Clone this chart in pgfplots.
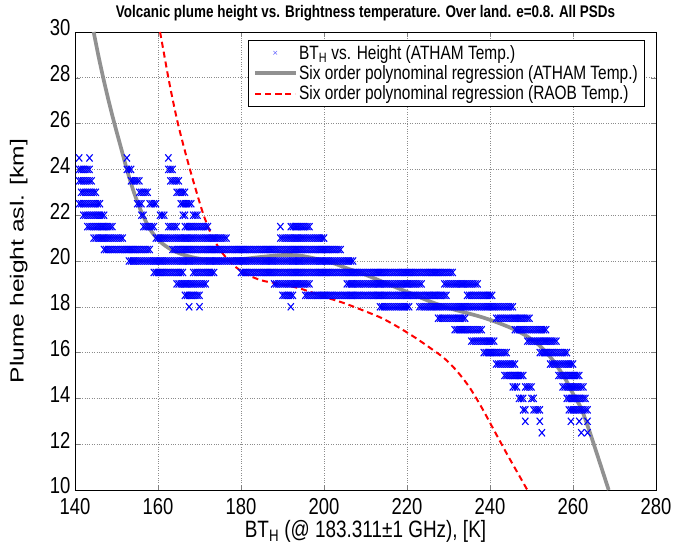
\documentclass[border=0pt]{standalone}
\usepackage{fontspec}
\setmainfont{Liberation Sans}
\usepackage{graphicx}
\usepackage{pgfplots}
\pgfplotsset{compat=1.18}
\definecolor{mgray}{rgb}{0.57,0.57,0.57}
\newcommand{\vs}[1]{\scalebox{1}[1.25]{#1}}
\begin{document}
\begin{tikzpicture}
\path[use as bounding box] (-75bp,-62bp) rectangle (613bp,490bp);
\begin{axis}[
  at={(0,0)}, anchor=south west,
  scale only axis, width=581bp, height=458bp,
  xmin=140, xmax=280, ymin=10, ymax=30,
  xtick={140,160,...,280}, ytick={10,12,...,30},
  grid=major,
  major grid style={black!45, dotted, line width=0.6pt},
  tick align=inside, tick pos=both, major tick length=5bp,
  axis line style={black, line width=0.6pt},
  ticklabel style={font=\fontsize{18.5}{20}\selectfont, inner sep=0.5bp},
  xticklabel style={yshift=-7.5bp},
  yticklabel style={xshift=-4bp, yshift=4bp},
  /pgf/number format/assume math mode=true,
  xticklabel={\vs{\pgfmathprintnumber{\tick}}},
  yticklabel={\vs{\pgfmathprintnumber{\tick}}},
  xlabel={\vs{BT\textsubscript{H} (@ 183.311±1 GHz), [K]}},
  ylabel={\scalebox{1.3}[1]{Plume height asl. [km]}},
  xlabel style={font=\fontsize{19}{21}\selectfont, at={(axis description cs:0.5,-0.09)}, anchor=center},
  ylabel style={font=\fontsize{19}{21}\selectfont, at={(axis description cs:-0.097,0.5)}, anchor=center},
  title={\vs{\bfseries Volcanic plume height vs. Brightness temperature. Over land. e=0.8. All PSDs}},
  every axis title shift=0pt,
  title style={font=\fontsize{13.5}{15}\selectfont, at={(axis description cs:0.5,1.041)}, anchor=center},
  legend style={at={(axis description cs:0.981,0.983)}, anchor=north east,
    font=\fontsize{15.5}{17}\selectfont, draw=black, line width=0.5pt,
    inner xsep=5bp, inner ysep=3bp, row sep=1bp, cells={anchor=west}},
  legend image code/.code={\draw[mark repeat=2,mark phase=2,#1] plot coordinates {(0bp,0bp) (20bp,0bp) (40bp,0bp)};},
]
\addplot[only marks, mark=x, blue, mark size=4.4pt, line width=1.1pt, mark options={yscale=1.15}, forget plot] coordinates {
(141,24.5)(143.5,24.5)(152.5,24.5)(162.5,24.5)
(141,24)(141.5,24)(142,24)(142.5,24)(143,24)(143.5,24)(152.5,24)(153,24)(153.5,24)(162.5,24)(163,24)(163.5,24)
(141,23.5)(141.5,23.5)(142,23.5)(142.5,23.5)(143,23.5)(143.5,23.5)(144,23.5)(153.5,23.5)(154,23.5)(154.5,23.5)(155,23.5)(155.5,23.5)(163,23.5)(163.5,23.5)(164,23.5)(164.5,23.5)(165,23.5)
(141.5,23)(142,23)(142.5,23)(143,23)(143.5,23)(144,23)(144.5,23)(145,23)(155.5,23)(156,23)(156.5,23)(157,23)(157.5,23)(164.5,23)(165,23)(165.5,23)(166,23)(166.5,23)
(141,22.5)(141.5,22.5)(142,22.5)(142.5,22.5)(143,22.5)(143.5,22.5)(144,22.5)(144.5,22.5)(145,22.5)(145.5,22.5)(146,22.5)(155,22.5)(155.5,22.5)(156,22.5)(158,22.5)(158.5,22.5)(159,22.5)(159.5,22.5)(165.5,22.5)(166,22.5)(166.5,22.5)(167,22.5)(167.5,22.5)(168,22.5)
(142,22)(142.5,22)(143,22)(143.5,22)(144,22)(144.5,22)(145,22)(145.5,22)(146,22)(146.5,22)(147,22)(156,22)(156.5,22)(160.5,22)(161,22)(161.5,22)(166,22)(166.5,22)(168.5,22)(169,22)(169.5,22)
(143,21.5)(143.5,21.5)(144,21.5)(144.5,21.5)(145,21.5)(145.5,21.5)(146,21.5)(146.5,21.5)(147,21.5)(147.5,21.5)(148,21.5)(148.5,21.5)(149,21.5)
(156.5,21.5)(157,21.5)(157.5,21.5)(158,21.5)(158.5,21.5)(159,21.5)(162.5,21.5)(163,21.5)(163.5,21.5)(164,21.5)(164.5,21.5)
(166.5,21.5)(167,21.5)(167.5,21.5)(168,21.5)(168.5,21.5)(169,21.5)(169.5,21.5)(170,21.5)(170.5,21.5)(171,21.5)(171.5,21.5)(172,21.5)(189.5,21.5)
(192,21.5)(192.5,21.5)(193,21.5)(193.5,21.5)(194,21.5)(194.5,21.5)(195,21.5)(195.5,21.5)(196,21.5)(196.5,21.5)
(144.5,21)(145,21)(145.5,21)(146,21)(146.5,21)(147,21)(147.5,21)(148,21)(148.5,21)(149,21)(149.5,21)(150,21)(150.5,21)(151,21)(151.5,21)
(159.5,21)(160,21)(160.5,21)(161,21)(161.5,21)(162,21)(162.5,21)(163,21)(163.5,21)(164,21)(164.5,21)(165,21)(165.5,21)(166,21)(166.5,21)(167,21)(167.5,21)(168,21)(168.5,21)(169,21)(169.5,21)(170,21)(170.5,21)(171,21)(171.5,21)(172,21)(172.5,21)(173,21)(173.5,21)(174,21)(174.5,21)(175,21)(175.5,21)(176,21)(176.5,21)
(189.5,21)(190,21)(190.5,21)(191,21)(191.5,21)(192,21)(192.5,21)(193,21)(193.5,21)(194,21)(194.5,21)(195,21)(195.5,21)(196,21)(196.5,21)(197,21)(197.5,21)(198,21)(198.5,21)(199,21)(199.5,21)(200,21)
(147,20.5)(147.5,20.5)(148,20.5)(148.5,20.5)(149,20.5)(149.5,20.5)(150,20.5)(150.5,20.5)(151,20.5)(151.5,20.5)(152,20.5)(152.5,20.5)(153,20.5)(153.5,20.5)(154,20.5)(154.5,20.5)(155,20.5)(155.5,20.5)(156,20.5)(156.5,20.5)(157,20.5)(157.5,20.5)(158,20.5)
(163.5,20.5)(164,20.5)(164.5,20.5)(165,20.5)(165.5,20.5)(166,20.5)(166.5,20.5)(167,20.5)(167.5,20.5)(168,20.5)(168.5,20.5)(169,20.5)(169.5,20.5)(170,20.5)(170.5,20.5)(171,20.5)(171.5,20.5)(172,20.5)(172.5,20.5)(173,20.5)(173.5,20.5)(174,20.5)(174.5,20.5)(175,20.5)(175.5,20.5)(176,20.5)(176.5,20.5)(177,20.5)(177.5,20.5)(178,20.5)(178.5,20.5)(179,20.5)(179.5,20.5)(180,20.5)(180.5,20.5)(181,20.5)(181.5,20.5)(182,20.5)(182.5,20.5)(183,20.5)(183.5,20.5)(184,20.5)(184.5,20.5)(185,20.5)(185.5,20.5)(186,20.5)(186.5,20.5)(187,20.5)(187.5,20.5)(188,20.5)(188.5,20.5)(189,20.5)(189.5,20.5)(190,20.5)(190.5,20.5)(191,20.5)(191.5,20.5)(192,20.5)(192.5,20.5)(193,20.5)(193.5,20.5)(194,20.5)(194.5,20.5)(195,20.5)(195.5,20.5)(196,20.5)(196.5,20.5)(197,20.5)(197.5,20.5)(198,20.5)(198.5,20.5)(199,20.5)(199.5,20.5)(200,20.5)(200.5,20.5)(201,20.5)(201.5,20.5)(202,20.5)(202.5,20.5)(203,20.5)(203.5,20.5)(204,20.5)
(153,20)(153.5,20)(154,20)(154.5,20)(155,20)(155.5,20)(156,20)(156.5,20)(157,20)(157.5,20)(158,20)(158.5,20)(159,20)(159.5,20)(160,20)(160.5,20)(161,20)(161.5,20)(162,20)(162.5,20)(163,20)(163.5,20)(164,20)(164.5,20)(165,20)(165.5,20)(166,20)(166.5,20)(167,20)(167.5,20)(168,20)(168.5,20)(169,20)(169.5,20)(170,20)(170.5,20)(171,20)(171.5,20)(172,20)(172.5,20)(173,20)(173.5,20)(174,20)(174.5,20)(175,20)(175.5,20)(176,20)(176.5,20)(177,20)(177.5,20)(178,20)(178.5,20)(179,20)(179.5,20)(180,20)(180.5,20)(181,20)(181.5,20)(182,20)(182.5,20)(183,20)(183.5,20)(184,20)(184.5,20)(185,20)(185.5,20)(186,20)(186.5,20)(187,20)(187.5,20)(188,20)(188.5,20)(189,20)(189.5,20)(190,20)(190.5,20)(191,20)(191.5,20)(192,20)(192.5,20)(193,20)(193.5,20)(194,20)(194.5,20)(195,20)(195.5,20)(196,20)(196.5,20)(197,20)(197.5,20)(198,20)(198.5,20)(199,20)(199.5,20)(200,20)(200.5,20)(201,20)(201.5,20)(202,20)(202.5,20)(203,20)(203.5,20)(204,20)(204.5,20)(205,20)(205.5,20)(206,20)(206.5,20)(207,20)
(159,19.5)(159.5,19.5)(160,19.5)(160.5,19.5)(161,19.5)(161.5,19.5)(162,19.5)(162.5,19.5)(163,19.5)(163.5,19.5)(164,19.5)(164.5,19.5)(165,19.5)(165.5,19.5)(166,19.5)
(168.5,19.5)(169,19.5)(169.5,19.5)(170,19.5)(170.5,19.5)(171,19.5)(171.5,19.5)(172,19.5)(172.5,19.5)(173,19.5)(173.5,19.5)
(180,19.5)(180.5,19.5)(181,19.5)(181.5,19.5)(182,19.5)(182.5,19.5)(183,19.5)(183.5,19.5)(184,19.5)(184.5,19.5)(185,19.5)(185.5,19.5)(186,19.5)(186.5,19.5)(187,19.5)(187.5,19.5)(188,19.5)(188.5,19.5)(189,19.5)(189.5,19.5)(190,19.5)(190.5,19.5)(191,19.5)(191.5,19.5)(192,19.5)(192.5,19.5)(193,19.5)(193.5,19.5)(194,19.5)(194.5,19.5)(195,19.5)(195.5,19.5)(196,19.5)(196.5,19.5)(197,19.5)(197.5,19.5)(198,19.5)(198.5,19.5)(199,19.5)(199.5,19.5)(200,19.5)(200.5,19.5)(201,19.5)(201.5,19.5)(202,19.5)(202.5,19.5)(203,19.5)(203.5,19.5)(204,19.5)(204.5,19.5)(205,19.5)(205.5,19.5)(206,19.5)(206.5,19.5)(207,19.5)(207.5,19.5)(208,19.5)(208.5,19.5)(209,19.5)(209.5,19.5)(210,19.5)(210.5,19.5)(211,19.5)(211.5,19.5)(212,19.5)(212.5,19.5)(213,19.5)(213.5,19.5)(214,19.5)(214.5,19.5)(215,19.5)(215.5,19.5)(216,19.5)(216.5,19.5)(217,19.5)(217.5,19.5)(218,19.5)(218.5,19.5)(219,19.5)(219.5,19.5)(220,19.5)(220.5,19.5)(221,19.5)(221.5,19.5)(222,19.5)(222.5,19.5)(223,19.5)(223.5,19.5)(224,19.5)(224.5,19.5)(225,19.5)(225.5,19.5)(226,19.5)(226.5,19.5)(227,19.5)(227.5,19.5)(228,19.5)(228.5,19.5)(229,19.5)(229.5,19.5)(230,19.5)(230.5,19.5)(231,19.5)
(164.5,19)(165,19)(165.5,19)(166,19)(166.5,19)(167,19)(167.5,19)(168,19)(168.5,19)(169,19)(169.5,19)(170,19)(170.5,19)(171,19)(171.5,19)
(188,19)(188.5,19)(189,19)(189.5,19)(190,19)(190.5,19)(191,19)(191.5,19)(192,19)(192.5,19)(193,19)(193.5,19)(194,19)(194.5,19)(195,19)(195.5,19)(196,19)(196.5,19)
(205.5,19)(206,19)(206.5,19)(207,19)(207.5,19)(208,19)(208.5,19)(209,19)(209.5,19)(210,19)(210.5,19)(211,19)(211.5,19)(212,19)(212.5,19)(213,19)(213.5,19)(214,19)(214.5,19)(215,19)(215.5,19)(216,19)(216.5,19)(217,19)(217.5,19)(218,19)(218.5,19)(219,19)(219.5,19)(220,19)(220.5,19)(221,19)(221.5,19)(222,19)(222.5,19)(223,19)(223.5,19)
(229,19)(229.5,19)(230,19)(230.5,19)(231,19)(231.5,19)(232,19)(232.5,19)(233,19)(233.5,19)(234,19)(234.5,19)(235,19)(235.5,19)(236,19)(236.5,19)(237,19)
(166.5,18.5)(167,18.5)(167.5,18.5)(168,18.5)(168.5,18.5)(169,18.5)(169.5,18.5)(170,18.5)(190,18.5)(190.5,18.5)(191,18.5)(191.5,18.5)(192,18.5)(192.5,18.5)
(195.5,18.5)(196,18.5)(196.5,18.5)(197,18.5)(197.5,18.5)(198,18.5)(198.5,18.5)(199,18.5)(199.5,18.5)(200,18.5)(200.5,18.5)(201,18.5)(201.5,18.5)(202,18.5)(202.5,18.5)(203,18.5)(203.5,18.5)(204,18.5)(204.5,18.5)(205,18.5)(205.5,18.5)(206,18.5)(206.5,18.5)(207,18.5)(207.5,18.5)(208,18.5)(208.5,18.5)(209,18.5)(209.5,18.5)(210,18.5)(210.5,18.5)(211,18.5)(211.5,18.5)(212,18.5)(212.5,18.5)(213,18.5)(213.5,18.5)(214,18.5)(214.5,18.5)(215,18.5)(215.5,18.5)(216,18.5)(216.5,18.5)(217,18.5)(217.5,18.5)(218,18.5)(218.5,18.5)(219,18.5)(219.5,18.5)(220,18.5)(220.5,18.5)(221,18.5)(221.5,18.5)(222,18.5)(222.5,18.5)(223,18.5)(223.5,18.5)(224,18.5)(224.5,18.5)(225,18.5)(225.5,18.5)(226,18.5)(226.5,18.5)(227,18.5)(227.5,18.5)(228,18.5)(228.5,18.5)(229,18.5)(229.5,18.5)
(234.5,18.5)(235,18.5)(235.5,18.5)(236,18.5)(236.5,18.5)(237,18.5)(237.5,18.5)(238,18.5)(238.5,18.5)(239,18.5)(239.5,18.5)(240,18.5)(240.5,18.5)
(167.5,18)(170,18)(192,18)
(213.5,18)(214,18)(214.5,18)(215,18)(215.5,18)(216,18)(216.5,18)(217,18)(217.5,18)(218,18)(218.5,18)(219,18)(219.5,18)(220,18)(220.5,18)
(223,18)(223.5,18)(224,18)(224.5,18)(225,18)(225.5,18)(226,18)(226.5,18)(227,18)(227.5,18)(228,18)(228.5,18)(229,18)(229.5,18)(230,18)(230.5,18)(231,18)(231.5,18)(232,18)(232.5,18)(233,18)(233.5,18)(234,18)(234.5,18)(235,18)(235.5,18)(236,18)(236.5,18)(237,18)(237.5,18)(238,18)(238.5,18)(239,18)(239.5,18)(240,18)(240.5,18)(241,18)(241.5,18)(242,18)(242.5,18)(243,18)(243.5,18)(244,18)(244.5,18)(245,18)(245.5,18)
(227.5,17.5)(228,17.5)(228.5,17.5)(229,17.5)(229.5,17.5)(230,17.5)(230.5,17.5)(231,17.5)(231.5,17.5)(232,17.5)(232.5,17.5)(233,17.5)(233.5,17.5)(234,17.5)
(241.5,17.5)(242,17.5)(242.5,17.5)(243,17.5)(243.5,17.5)(244,17.5)(244.5,17.5)(245,17.5)(245.5,17.5)(246,17.5)(246.5,17.5)(247,17.5)(247.5,17.5)(248,17.5)(248.5,17.5)(249,17.5)(249.5,17.5)
(231.5,17)(232,17)(232.5,17)(233,17)(233.5,17)(234,17)(234.5,17)(235,17)(235.5,17)(236,17)(236.5,17)(237,17)(237.5,17)(238,17)
(246,17)(246.5,17)(247,17)(247.5,17)(248,17)(248.5,17)(249,17)(249.5,17)(250,17)(250.5,17)(251,17)(251.5,17)(252,17)(252.5,17)(253,17)(253.5,17)
(235.5,16.5)(236,16.5)(236.5,16.5)(237,16.5)(237.5,16.5)(238,16.5)(238.5,16.5)(239,16.5)(239.5,16.5)(240,16.5)(240.5,16.5)(241,16.5)
(249,16.5)(249.5,16.5)(250,16.5)(250.5,16.5)(251,16.5)(251.5,16.5)(252,16.5)(252.5,16.5)(253,16.5)(253.5,16.5)(254,16.5)(254.5,16.5)(255,16.5)(255.5,16.5)(256,16.5)
(238.5,16)(239,16)(239.5,16)(240,16)(240.5,16)(241,16)(241.5,16)(242,16)(242.5,16)(243,16)(243.5,16)(244,16)
(252,16)(252.5,16)(253,16)(253.5,16)(254,16)(254.5,16)(255,16)(255.5,16)(256,16)(256.5,16)(257,16)(257.5,16)(258,16)(258.5,16)
(241.5,15.5)(242,15.5)(242.5,15.5)(243,15.5)(243.5,15.5)(244,15.5)(244.5,15.5)(245,15.5)(245.5,15.5)(246,15.5)
(254.5,15.5)(255,15.5)(255.5,15.5)(256,15.5)(256.5,15.5)(257,15.5)(257.5,15.5)(258,15.5)(258.5,15.5)(259,15.5)(259.5,15.5)(260,15.5)
(243.5,15)(244,15)(244.5,15)(245,15)(245.5,15)(246,15)(246.5,15)(247,15)(247.5,15)(248,15)
(256.5,15)(257,15)(257.5,15)(258,15)(258.5,15)(259,15)(259.5,15)(260,15)(260.5,15)(261,15)(261.5,15)
(245.5,14.5)(246,14.5)(246.5,14.5)(248.5,14.5)(249,14.5)(249.5,14.5)(250,14.5)
(257.5,14.5)(258,14.5)(258.5,14.5)(259,14.5)(259.5,14.5)(260,14.5)(260.5,14.5)(261,14.5)(261.5,14.5)(262,14.5)(262.5,14.5)
(247,14)(247.5,14)(248,14)(250,14)(250.5,14)(258.5,14)(259,14)(259.5,14)(260,14)(260.5,14)(261,14)(261.5,14)(262,14)(262.5,14)(263,14)
(248,13.5)(248.5,13.5)(250.5,13.5)(251,13.5)(251.5,13.5)(252,13.5)(259,13.5)(259.5,13.5)(260,13.5)(260.5,13.5)(261,13.5)(261.5,13.5)(262,13.5)(262.5,13.5)(263,13.5)(263.5,13.5)
(248.5,13)(252,13)(259.5,13)(261.5,13)(263.5,13)
(252.5,12.5)(262,12.5)(263.5,12.5)
};
\addlegendimage{only marks, mark=x, blue!55, mark size=2.6pt, line width=0.5pt}
\addlegendentry{\vs{BT\textsubscript{H} vs. Height (ATHAM Temp.)}}
\addplot[mgray, line width=3.7bp, smooth] coordinates {
(144.5,30)(145.6,29)(146.8,28)(148.1,27)(149.5,26)(151,25)(152.5,24)(154.2,23)(156.1,22.1)(158.2,21.35)(160.5,20.85)(163,20.52)(166,20.28)(170,20.1)(175,20.04)(180,20.08)(185,20.18)(190,20.26)(194,20.24)(198,20.1)(202,19.92)(206,19.65)(210,19.4)(214,19.1)(218,18.8)(222,18.5)(226,18.2)(230,17.95)(234,17.75)(238,17.55)(242,17.3)(246,17.0)(249,16.7)(252,16.3)(255,15.7)(258,14.9)(260,14.2)(262,13.55)(264,12.55)(266,11.45)(268.6,10)
};
\addlegendentry{\vs{Six order polynominal regression (ATHAM Temp.)}}
\addplot[red, line width=2bp, dash pattern=on 6bp off 4bp, smooth] coordinates {
(160.5,30)(161.5,29)(162.5,28)(163.6,27)(164.8,26)(166.2,25)(167.7,24)(169.3,23)(171,22)(173,21.1)(175.3,20.4)(178,19.85)(181,19.45)(185,19.15)(189.4,19.0)(194.2,18.8)(199.8,18.45)(205,18.15)(210,17.8)(214,17.5)(218,17.1)(222,16.65)(226,16.15)(229,15.75)(232,15.2)(235,14.5)(238,13.6)(241,12.6)(244,11.6)(246.5,10.8)(249,10)
};
\addlegendentry{\vs{Six order polynominal regression (RAOB Temp.)}}
\end{axis}
\end{tikzpicture}
\end{document}
